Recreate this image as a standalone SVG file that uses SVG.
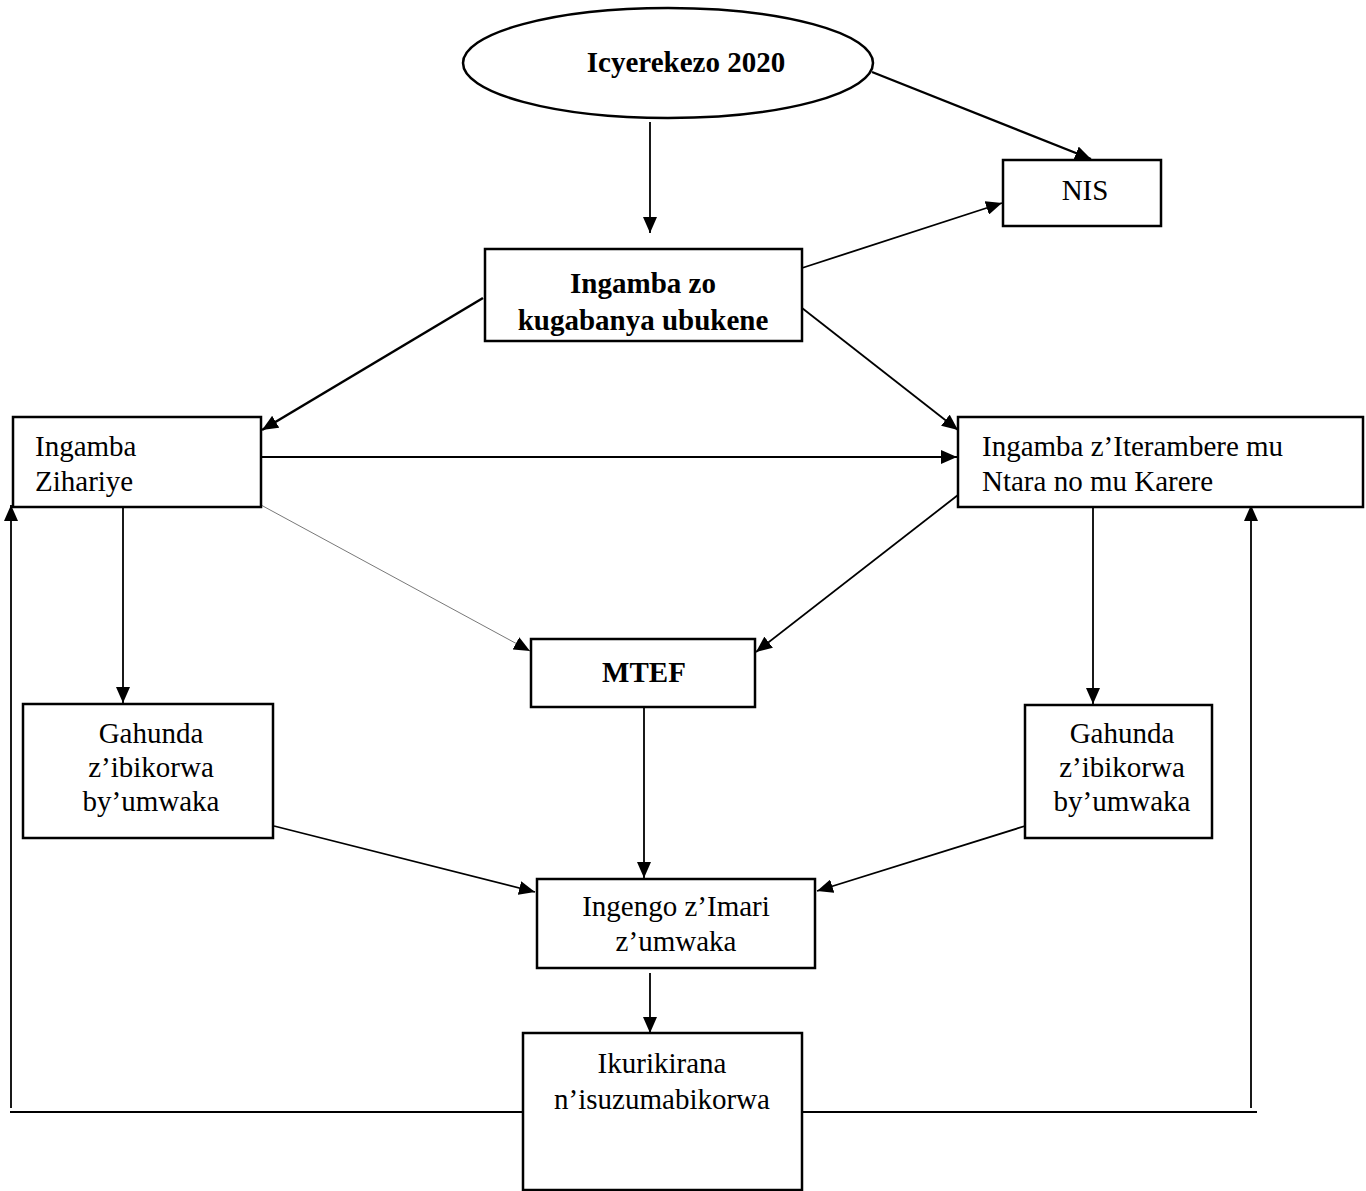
<svg xmlns="http://www.w3.org/2000/svg" width="1366" height="1191" viewBox="0 0 1366 1191">
<defs>
<marker id="ah" markerUnits="userSpaceOnUse" markerWidth="18" markerHeight="14" refX="16" refY="7" orient="auto">
<path d="M0,0 L16,7 L0,14 Z" fill="#000"/>
</marker>
<style>
.box{fill:#fff;stroke:#000;stroke-width:2.5}
.t{font-family:"Liberation Serif","Times New Roman",serif;font-size:29px;fill:#000}
.b{font-weight:bold}
.c{text-anchor:middle}
.ln{stroke:#000;stroke-width:2;fill:none}
.ar{stroke:#000;stroke-width:1.8;fill:none;marker-end:url(#ah)}
</style>
</defs>
<rect width="1366" height="1191" fill="#fff"/>
<g id="connectors">
<line class="ar" x1="650" y1="122" x2="650" y2="233"/>
<line class="ar" x1="872" y1="72" x2="1091" y2="159" style="stroke-width:2.4"/>
<line class="ar" x1="802" y1="268" x2="1002" y2="203"/>
<line class="ar" x1="483" y1="298" x2="262" y2="430" style="stroke-width:2.6"/>
<line class="ar" x1="802" y1="308" x2="958" y2="430"/>
<line class="ar" x1="261" y1="457" x2="957" y2="457"/>
<line class="ar" x1="261" y1="505" x2="530" y2="651" style="stroke:#555;stroke-width:0.8"/>
<line class="ar" x1="958" y1="495" x2="756" y2="652"/>
<line class="ar" x1="123" y1="507" x2="123" y2="703"/>
<line class="ar" x1="1093" y1="507" x2="1093" y2="704"/>
<line class="ar" x1="644" y1="707" x2="644" y2="878"/>
<line class="ar" x1="274" y1="826" x2="535" y2="892"/>
<line class="ar" x1="1025" y1="826" x2="817" y2="891"/>
<line class="ar" x1="650" y1="973" x2="650" y2="1033"/>
<line class="ln" x1="10" y1="1112" x2="523" y2="1112"/>
<line class="ln" x1="802" y1="1112" x2="1257" y2="1112"/>
<line class="ar" x1="11" y1="1108" x2="11" y2="505"/>
<line class="ar" x1="1251" y1="1108" x2="1251" y2="505"/>
</g>
<g id="n-vision">
<ellipse class="box" cx="668" cy="63" rx="205" ry="55"/>
<text class="t b c" x="686" y="72">Icyerekezo  2020</text>
</g>
<g id="n-nis">
<rect class="box" x="1003" y="160" width="158" height="66"/>
<text class="t c" x="1085" y="200">NIS</text>
</g>
<g id="n-prsp">
<rect class="box" x="485" y="249" width="317" height="92"/>
<text class="t b c" x="643" y="293">Ingamba zo</text>
<text class="t b c" x="643" y="330">kugabanya ubukene</text>
</g>
<g id="n-sector">
<rect class="box" x="13" y="417" width="248" height="90"/>
<text class="t" x="35" y="456">Ingamba</text>
<text class="t" x="35" y="491">Zihariye</text>
</g>
<g id="n-district">
<rect class="box" x="958" y="417" width="405" height="90"/>
<text class="t" x="982" y="456">Ingamba z’Iterambere mu</text>
<text class="t" x="982" y="491">Ntara no mu Karere</text>
</g>
<g id="n-mtef">
<rect class="box" x="531" y="639" width="224" height="68"/>
<text class="t b c" x="644" y="682">MTEF</text>
</g>
<g id="n-plan-left">
<rect class="box" x="23" y="704" width="250" height="134"/>
<text class="t c" x="151" y="743">Gahunda</text>
<text class="t c" x="151" y="777">z’ibikorwa</text>
<text class="t c" x="151" y="811">by’umwaka</text>
</g>
<g id="n-plan-right">
<rect class="box" x="1025" y="705" width="187" height="133"/>
<text class="t c" x="1122" y="743">Gahunda</text>
<text class="t c" x="1122" y="777">z’ibikorwa</text>
<text class="t c" x="1122" y="811">by’umwaka</text>
</g>
<g id="n-budget">
<rect class="box" x="537" y="879" width="278" height="89"/>
<text class="t c" x="676" y="916">Ingengo z’Imari</text>
<text class="t c" x="676" y="951">z’umwaka</text>
</g>
<g id="n-me">
<rect class="box" x="523" y="1033" width="279" height="157"/>
<text class="t c" x="662" y="1073">Ikurikirana</text>
<text class="t c" x="662" y="1109">n’isuzumabikorwa</text>
</g>
</svg>
